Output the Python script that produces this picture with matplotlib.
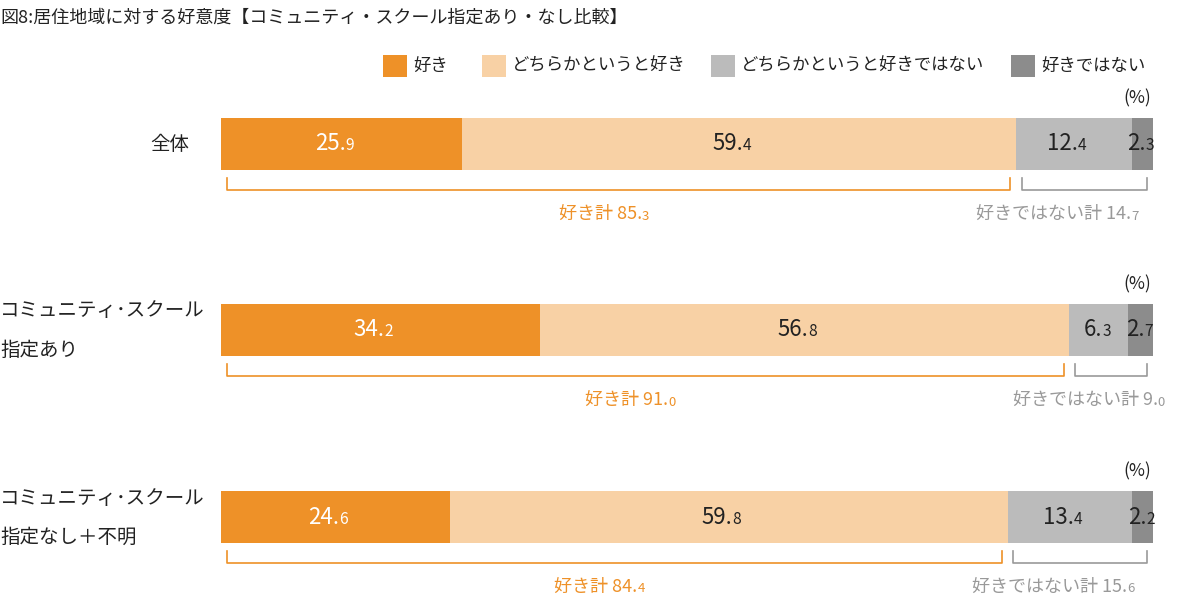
import matplotlib
matplotlib.use("Agg")
import matplotlib.pyplot as plt
from matplotlib.patches import Rectangle

plt.rcParams["font.family"] = "Noto Sans CJK JP"

title = "図8:居住地域に対する好意度【コミュニティ・スクール指定あり・なし比較】"
groups = ["全体", "コミュニティ・スクール\n指定あり", "コミュニティ・スクール\n指定なし＋不明"]
series_names = ["好き", "どちらかというと好き", "どちらかというと好きではない", "好きではない"]
like = [25.9, 34.2, 24.6]
rather_like = [59.4, 56.8, 59.8]
rather_dislike = [12.4, 6.3, 13.4]
dislike = [2.3, 2.7, 2.2]
like_total = ["85.3", "91.0", "84.4"]
dislike_total = ["14.7", "9.0", "15.6"]
colors = ["#EE9128", "#F8D1A5", "#BBBBBB", "#8C8C8C"]

W, H = 1201, 595
fig = plt.figure(figsize=(W / 100, H / 100), dpi=100)
ax = fig.add_axes([0, 0, 1, 1])
ppu = 9.32
ax.set_xlim(-221 / ppu, (W - 221) / ppu)
ax.set_ylim(H, 0)
ax.axis("off")

def px(x):
    return (x - 221) / ppu

centers = [144, 330, 517]
bh = 52
series = [like, rather_like, rather_dislike, dislike]

def num(x, y, s, size=16, color="#222222"):
    ip, dp = s.split(".")
    ax.text(x + 0.4, y, ip + ".", ha="right", va="center", fontsize=size, color=color)
    ax.text(x + 0.4, y + 2, dp, ha="left", va="center", fontsize=size * 0.7, color=color)

def total(x, y, label, s, color):
    ip, dp = s.split(".")
    ax.text(x, y, label + " " + ip + ".", ha="right", va="center", fontsize=13, color=color)
    ax.text(x, y + 2, dp, ha="left", va="center", fontsize=9.5, color=color)

for i, yc in enumerate(centers):
    left = 0
    for k, s in enumerate(series):
        v = s[i]
        ax.barh(yc, v, left=left, height=bh, color=colors[k], edgecolor="none")
        tc = "white" if k == 0 else "#222222"
        num(left + v / 2, yc, f"{v:.1f}", color=tc)
        left += v
    ax.text(px(1137), yc - 46, "(%)", ha="center", va="center", fontsize=12.5, color="#222222")
    by0, by1 = yc + 34, yc + 46
    l1 = like[i] + rather_like[i]
    ax.plot([0.6, 0.6, l1 - 0.6, l1 - 0.6], [by0, by1, by1, by0], color="#EE9128", lw=1.2)
    ax.plot([l1 + 0.6, l1 + 0.6, 99.4, 99.4], [by0, by1, by1, by0], color="#999999", lw=1.2)
    total(l1 / 2 + 2.5, yc + 70, "好き計", like_total[i], "#EE9128")
    total((l1 + 100) / 2 + 5, yc + 70, "好きではない計", dislike_total[i], "#999999")

ax.text(px(170), centers[0], groups[0], ha="center", va="center", fontsize=14, color="#222222")
for i in (1, 2):
    l1, l2 = groups[i].split("\n")
    ax.text(px(0), centers[i] - 19, l1.replace("・", "･"), ha="left", va="center", fontsize=14, color="#222222")
    ax.text(px(0), centers[i] + 20, l2, ha="left", va="center", fontsize=14, color="#222222")

ax.text(px(0), 18, title, ha="left", va="center", fontsize=13, color="#222222")

leg_x = [383, 482, 711, 1011]
for k, name in enumerate(series_names):
    ax.add_patch(Rectangle((px(leg_x[k]), 55), 24 / ppu, 22, color=colors[k], lw=0))
    ax.text(px(leg_x[k] + 30), 66, name, ha="left", va="center", fontsize=12.5, color="#222222")

fig.savefig("out.png", dpi=100)
